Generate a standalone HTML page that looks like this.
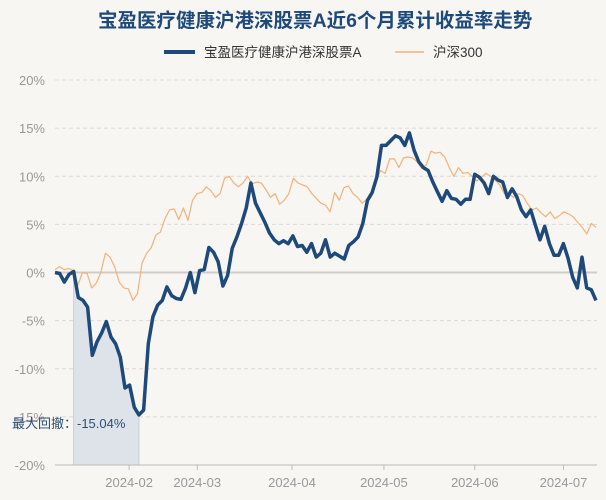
<!DOCTYPE html>
<html><head><meta charset="utf-8">
<style>
html,body{margin:0;padding:0;background:#f8f6f2;}
#wrap{position:relative;width:606px;height:500px;overflow:hidden;font-family:"Liberation Sans","Noto Sans CJK SC",sans-serif;}
#title{position:absolute;left:98px;top:4px;white-space:nowrap;font-size:19.5px;font-weight:bold;color:#1d4a7a;}
svg{position:absolute;left:0;top:0;}
</style></head><body>
<div id="wrap">
<svg id="chart" width="606" height="500"></svg>
<div id="title">宝盈医疗健康沪港深股票A近6个月累计收益率走势</div>
</div>
<script>
const fundName = "宝盈医疗健康沪港深股票A";
const benchName = "沪深300";
const yTicks = [20,15,10,5,0,-5,-10,-15,-20];
const yTickLabels = ["20%","15%","10%","5%","0%","-5%","-10%","-15%","-20%"];
const monthLabels = ["2024-02","2024-03","2024-04","2024-05","2024-06","2024-07"];
const monthFrac = [0.137,0.263,0.438,0.608,0.776,0.940];
const fundValues = [0,-0.1,-1,-0.2,0.1,-2.6,-2.9,-3.6,-8.6,-7.2,-6.3,-5.1,-6.7,-7.4,-8.8,-12,-11.7,-14,-14.8,-14.3,-7.4,-4.6,-3.4,-2.9,-1.5,-2.4,-2.7,-2.8,-1.6,0,-2.1,0.2,0.3,2.6,2.1,1.1,-1.4,-0.3,2.5,3.7,5.1,6.7,9.3,7.2,6.2,5.2,4.1,3.4,3.0,3.3,3.0,3.8,2.7,2.8,
2.1,3.0,1.6,2.0,3.4,1.6,2.0,1.7,1.4,2.8,3.2,3.7,5.1,7.5,8.3,9.9,13.2,13.2,13.7,14.2,14.0,13.2,14.5,12.7,11.5,10.9,10.6,9.4,8.4,7.4,8.5,7.7,7.6,7.1,7.6,7.6,10.2,9.9,9.3,8.2,10.0,9.6,9.4,7.8,8.7,7.9,6.5,5.8,6.5,4.9,3.4,4.8,3.0,1.8,1.8,3.0,1.5,-0.5,-1.6,1.6,-1.6,-1.8,-2.9];
const benchValues = [0.3,0.6,0.3,0.4,0.2,-1.3,0,-0.1,-1.6,-1.1,0,2.0,1.6,0.6,-1.0,-1.6,-1.7,-2.9,-2.2,1.0,2.0,2.6,3.9,4.2,5.6,6.5,6.6,5.5,6.7,5.4,7.5,8.2,8.3,8.9,8.5,7.8,8.2,9.8,10.0,9.3,8.9,9.3,10.0,9.2,9.4,9.3,8.6,7.8,8.2,7.1,7.5,8.2,9.8,9.3,9.1,
8.9,8.2,7.7,7.2,7.0,6.3,8.3,7.5,8.8,9.0,8.2,7.8,7.2,7.6,7.9,9.4,10.6,10.3,11.8,11.8,10.9,11.9,12.0,11.9,11.5,10.8,11.2,12.6,12.4,12.5,12.0,10.9,10.0,10.9,10.3,10.4,10.0,9.5,9.9,10.3,10.0,9.6,9.1,8.2,8.2,7.8,8.2,8.0,7.2,6.5,6.7,6.2,5.8,6.3,5.6,5.9,6.3,6.1,5.8,5.2,4.7,4.0,5.1,4.7];
const drawdownStart = 4, drawdownEnd = 18;
const drawdownLabel = "最大回撤：-15.04%";

const NS="http://www.w3.org/2000/svg";
const svg=document.getElementById('chart');
const X0=55,X1=596,YTOP=80,YBOT=465;
function y(v){return YBOT-(v+20)/40*(YBOT-YTOP);}
function xs(i,n){return X0+i*(X1-X0)/(n-1);}
function mk(tag,attrs){const e=document.createElementNS(NS,tag);for(const k in attrs)e.setAttribute(k,attrs[k]);svg.appendChild(e);return e;}

yTicks.forEach((t,i)=>{
  const g=mk('line',{x1:X0,x2:597,y1:y(t),y2:y(t),stroke:t===0?'#cfcccb':'#dcdad6','stroke-width':t===0?2:1,'stroke-dasharray':t===0?'':'4,3'});
  
  
  const tx=mk('text',{x:45,y:y(t)+5,'text-anchor':'end','font-size':13,fill:'#999'});
  tx.textContent=yTickLabels[i];
  
  
});
(function(){
  const n=fundValues.length;
  let d='M'+xs(drawdownStart,n)+','+YBOT;
  for(let i=drawdownStart;i<=drawdownEnd;i++)d+=' L'+xs(i,n)+','+y(fundValues[i]);
  d+=' L'+xs(drawdownEnd,n)+','+YBOT+' Z';
  const p=mk('path',{d:d,fill:'#dde3e9',stroke:'#c5ced8','stroke-width':1});
  
  
})();
const ax=mk('line',{x1:X0,x2:597,y1:YBOT,y2:YBOT,stroke:'#bbb','stroke-width':1});


monthLabels.forEach((m,i)=>{
  const xx=X0+monthFrac[i]*(X1-X0);
  const tk=mk('line',{x1:xx,x2:xx,y1:YBOT,y2:YBOT+5,stroke:'#bbb'});
  
  
  const t=mk('text',{x:xx,y:487,'text-anchor':'middle','font-size':13,fill:'#999'});
  t.textContent=m;
  
  
});
function line(vals,color,w,name){
  const n=vals.length;
  const pts=vals.map((v,i)=>xs(i,n).toFixed(1)+','+y(v).toFixed(1)).join(' ');
  const p=mk('polyline',{points:pts,fill:'none',stroke:color,'stroke-width':w,'stroke-linejoin':'round'});
  
  
}
line(benchValues,'#f2b27a',1.2,'benchmark-line');
line(fundValues,'#1d4a7a',3.5,'fund-line');
const dl=mk('text',{x:12,y:428,'font-size':13,fill:'#2c4f73'});
dl.textContent=drawdownLabel;


const l1=mk('line',{x1:164,x2:195,y1:52,y2:52,stroke:'#1d4a7a','stroke-width':4});


const t1=mk('text',{x:204,y:57,'font-size':13.5,fill:'#333'});t1.textContent=fundName;


const l2=mk('line',{x1:395,x2:424,y1:52,y2:52,stroke:'#f2b27a','stroke-width':1.5});


const t2=mk('text',{x:433,y:57,'font-size':13.5,fill:'#333'});t2.textContent=benchName;


</script>
</body></html>
